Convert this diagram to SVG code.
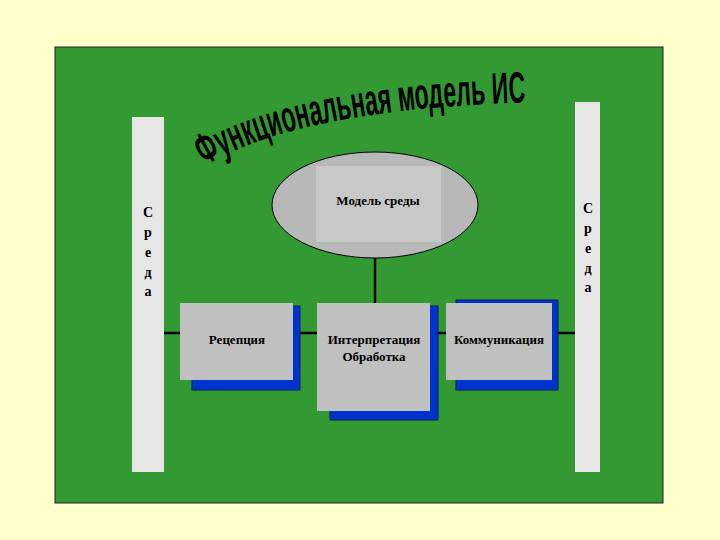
<svg xmlns="http://www.w3.org/2000/svg" width="720" height="540" viewBox="0 0 720 540">
<style>
.bar{fill:#e6e6e6}
.sreda{font-family:"Liberation Serif",serif;font-size:14px;font-weight:bold;fill:#000;text-anchor:middle}
.box{fill:#c0c0c0}
.sh{fill:#0033cc;stroke:#001a66;stroke-width:1}
.lbl{font-family:"Liberation Serif",serif;font-size:13px;font-weight:bold;fill:#000;text-anchor:middle}
.ln{stroke:#000;stroke-width:2.5;fill:none}
</style>
<defs><path id="tp" d="M205,166 Q300,108 540,102"/></defs>
<rect width="720" height="540" fill="#ffffcc"/>
<rect x="55" y="47" width="608" height="456" fill="#339933" stroke="#222" stroke-width="1"/>
<g id="left-env"><rect class="bar" x="132" y="117" width="32" height="355"/>
<text class="sreda"><tspan x="148" y="217">С</tspan><tspan x="148" y="237">р</tspan><tspan x="148" y="257">е</tspan><tspan x="148" y="277">д</tspan><tspan x="148" y="296">а</tspan></text></g>
<g id="right-env"><rect class="bar" x="575" y="102" width="25" height="370"/>
<text class="sreda"><tspan x="588" y="213">С</tspan><tspan x="588" y="233">р</tspan><tspan x="588" y="253">е</tspan><tspan x="588" y="273">д</tspan><tspan x="588" y="292">а</tspan></text></g>
<g id="title"><text font-family="Liberation Sans,sans-serif" font-size="44" font-weight="bold" fill="#000" textLength="330" lengthAdjust="spacingAndGlyphs"><textPath href="#tp">Функциональная модель ИС</textPath></text></g>
<g id="connectors">
<line class="ln" x1="375" y1="242" x2="375" y2="303"/>
<line class="ln" x1="164" y1="333" x2="180" y2="333"/>
<line class="ln" x1="293" y1="333" x2="317" y2="333"/>
<line class="ln" x1="430" y1="333" x2="446" y2="333"/>
<line class="ln" x1="552" y1="333" x2="575" y2="333"/>
</g>
<g id="model"><ellipse cx="375" cy="205" rx="103" ry="53" fill="#b8b8b8" stroke="#000" stroke-width="1"/>
<rect x="316" y="166" width="125" height="76" fill="#c8c8c8"/>
<text class="lbl" x="378" y="205" font-size="11">Модель среды</text></g>
<g id="reception"><rect class="sh" x="192" y="306" width="108" height="84"/><rect class="box" x="180" y="303" width="113" height="77"/>
<text class="lbl" x="237" y="344">Рецепция</text></g>
<g id="interp"><rect class="sh" x="330" y="306" width="108" height="114"/><rect class="box" x="317" y="303" width="113" height="108"/>
<text class="lbl" x="374" y="344">Интерпретация</text><text class="lbl" x="374" y="361">Обработка</text></g>
<g id="comm"><rect class="sh" x="456" y="300" width="102" height="90"/><rect class="box" x="446" y="303" width="106" height="77"/>
<text class="lbl" x="499" y="344">Коммуникация</text></g>
</svg>
